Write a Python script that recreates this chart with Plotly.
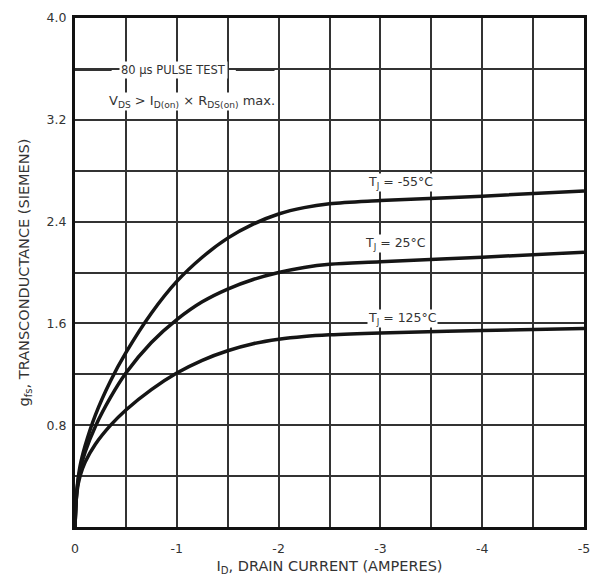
import plotly.graph_objects as go

# Drain current (A)
drain_current = [0, -0.02, -0.05, -0.1, -0.2, -0.35, -0.5, -0.75, -1.0, -1.25,
                 -1.5, -1.75, -2.0, -2.25, -2.5, -3.0, -4.0, -5.0]
# Transconductance (S) per junction temperature
gfs_m55 = [0, 0.30, 0.48, 0.64, 0.88, 1.15, 1.37, 1.68, 1.93, 2.12,
           2.27, 2.38, 2.46, 2.51, 2.54, 2.565, 2.60, 2.64]
gfs_25 = [0, 0.30, 0.45, 0.59, 0.79, 1.02, 1.21, 1.45, 1.63, 1.77,
          1.87, 1.945, 2.00, 2.04, 2.065, 2.085, 2.12, 2.16]
gfs_125 = [0, 0.28, 0.40, 0.51, 0.65, 0.80, 0.92, 1.08, 1.21, 1.31,
           1.385, 1.44, 1.475, 1.497, 1.51, 1.525, 1.545, 1.56]

x_grid = [0, -0.5, -1, -1.5, -2, -2.5, -3, -3.5, -4, -4.5, -5]
x_labels = ["0", "", "-1", "", "-2", "", "-3", "", "-4", "", "-5"]
y_grid = [0, 0.4, 0.8, 1.2, 1.6, 2.0, 2.4, 2.8, 3.2, 3.6, 4.0]
y_labels = ["", "", "0.8", "", "1.6", "", "2.4", "", "3.2", "", "4.0"]

curve_labels = [("T<sub>J</sub> = -55\u00b0C", -3.2, 2.71),
                ("T<sub>J</sub> = 25\u00b0C", -3.15, 2.23),
                ("T<sub>J</sub> = 125\u00b0C", -3.22, 1.64)]

FONT = "DejaVu Sans, Liberation Sans, sans-serif"
INK = "#333333"

fig = go.Figure()
for ys in (gfs_m55, gfs_25, gfs_125):
    fig.add_trace(go.Scatter(x=drain_current, y=ys, mode="lines",
                             line=dict(color="#151515", width=3.5, shape="spline", smoothing=1.0),
                             showlegend=False, hoverinfo="skip"))

for txt, xv, yv in curve_labels:
    fig.add_annotation(x=xv, y=yv, text=txt, showarrow=False,
                       font=dict(family=FONT, size=12.5, color=INK),
                       bgcolor="white", borderpad=0, xanchor="center", yanchor="middle")

# pulse test note
fig.add_annotation(x=-0.97, y=3.59, text="80 \u03bcs PULSE TEST", showarrow=False,
                   font=dict(family=FONT, size=11.5, color=INK), bgcolor="white",
                   borderpad=1, xanchor="center", yanchor="middle")
fig.add_shape(type="line", x0=0, x1=-0.36, y0=3.59, y1=3.59,
              line=dict(color="#333", width=1.5))
fig.add_shape(type="line", x0=-1.58, x1=-1.96, y0=3.59, y1=3.59,
              line=dict(color="#333", width=1.5))
fig.add_annotation(x=-0.32, y=3.34,
                   text="V<sub>DS</sub> > I<sub>D(on)</sub> \u00d7 R<sub>DS(on)</sub> max.",
                   showarrow=False, font=dict(family=FONT, size=13, color=INK),
                   bgcolor="white", borderpad=0, xanchor="left", yanchor="middle")

fig.update_xaxes(range=[0, -5], tickvals=x_grid, ticktext=x_labels,
                 showgrid=True, gridcolor="#333", gridwidth=1.6,
                 showline=True, linecolor="#111", linewidth=3, mirror=True,
                 ticks="", zeroline=False, ticklabelstandoff=8,
                 tickfont=dict(family=FONT, size=12.5, color=INK),
                 title=dict(text="I<sub>D</sub>, DRAIN CURRENT (AMPERES)",
                            font=dict(family=FONT, size=14.5, color=INK), standoff=6))
fig.update_yaxes(range=[0, 4.0], tickvals=y_grid, ticktext=y_labels,
                 showgrid=True, gridcolor="#333", gridwidth=1.6,
                 showline=True, linecolor="#111", linewidth=3, mirror=True,
                 ticks="", zeroline=False, ticklabelstandoff=3,
                 tickfont=dict(family=FONT, size=12.5, color=INK),
                 title=dict(text="g<sub>fs</sub>, TRANSCONDUCTANCE (SIEMENS)",
                            font=dict(family=FONT, size=14.5, color=INK), standoff=14))

fig.update_layout(width=600, height=582, margin=dict(l=75, r=10, t=17, b=55),
                  paper_bgcolor="white", plot_bgcolor="white")

fig.write_html("out.html")
